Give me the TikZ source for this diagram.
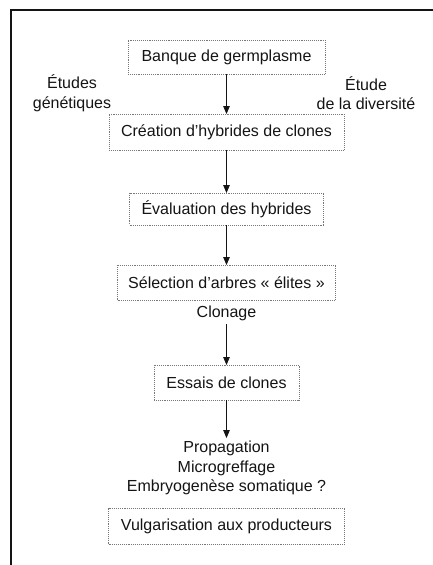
\documentclass[tikz,border=0pt]{standalone}
\usepackage{fontspec}
\setmainfont{Liberation Sans}
\usepackage{tikz}
\usetikzlibrary{shapes,arrows}
\definecolor{scanGray}{RGB}{120,120,120}
\definecolor{inkBlack}{RGB}{20,20,20}

\begin{document}
\begin{tikzpicture}[x=1pt, y=-1pt]%
  \tikzset{stage box/.style={draw=scanGray, densely dotted, line width=0.9pt, minimum height=34pt, inner xsep=10pt}}
  \tikzset{flow arrow/.style={draw, -triangle 45, line width=0.8pt, inkBlack}}
  \tikzstyle{every node}=[font=\fontsize{16}{19.5}\selectfont, text=inkBlack, outer sep=0pt, align=center]

  \useasboundingbox (0,0) rectangle (433,565);
  \draw[inkBlack, line width=1.2pt] (433,10) -- (11,10) -- (11,565);

  \node[stage box, minimum width=197pt] at (226.5,57) (banque) {Banque de germplasme};
  \node[stage box, minimum width=235pt, minimum height=36pt] at (226.5,132) (creation) {Création d’hybrides de clones};
  \node[stage box, minimum width=194pt, minimum height=32pt] at (226.5,209) (evaluation) {Évaluation des hybrides};
  \node[stage box, minimum width=218pt, minimum height=35pt] at (226.5,282.5) (selection) {Sélection d’arbres « élites »};
  \node[inner sep=4pt] at (226.5,313) (clonage) {Clonage};
  \node[stage box, minimum width=145pt, minimum height=35pt] at (226.5,382.5) (essais) {Essais de clones};
  \node[inner sep=3pt] at (226.5,468) (propagation) {Propagation\\Microgreffage\\Embryogenèse somatique ?};
  \node[stage box, minimum width=236pt, minimum height=36pt] at (226.5,526) (vulgarisation) {Vulgarisation aux producteurs};

  \node at (72,93) (genetique) {Études\\génétiques};
  \node at (366,93) (diversite) {Étude\\de la diversité};

  \path[flow arrow] (banque) edge (creation);
  \path[flow arrow] (creation) edge (evaluation);
  \path[flow arrow] (evaluation) edge (selection);
  \path[flow arrow] (clonage) edge (essais);
  \path[flow arrow] (essais) edge (propagation);
\end{tikzpicture}
\end{document}
